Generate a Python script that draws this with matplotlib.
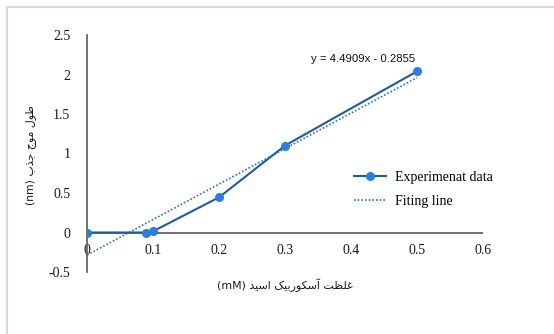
import matplotlib
matplotlib.use('Agg')
import matplotlib.pyplot as plt
from matplotlib.patches import Rectangle

# data
conc_mM = [0.0, 0.09, 0.10, 0.20, 0.30, 0.50]
shift_nm = [0.0, 0.0, 0.015, 0.445, 1.10, 2.04]

# trendline as printed on the chart
slope = 4.4909
intercept = -0.2855
fit_x = [0.0, 0.5]
fit_y = [slope * v + intercept for v in fit_x]

x_ticks = [0, 0.1, 0.2, 0.3, 0.4, 0.5, 0.6]
x_tick_labels = ['0', '0.1', '0.2', '0.3', '0.4', '0.5', '0.6']
y_ticks = [-0.5, 0, 0.5, 1, 1.5, 2, 2.5]
y_tick_labels = ['-0.5', '0', '0.5', '1', '1.5', '2', '2.5']

# Persian labels, written in presentation forms in visual order (no shaping engine)
y_label = '(nm) \uFE8F\uFEAC\uFE9F \uFE9D\uFEEE\uFEE3 \uFEDD\uFEEE\uFEC3'
x_label = ('(mM) \uFEAA\uFBFF\uFEB3\uFE8D '
           '\uFB8F\uFBFF\uFE91\uFEAD\uFEEE\uFB91\uFEB3\uFE81 '
           '\uFE96\uFEC8\uFEE0\uFECF')
eq_text = 'y = 4.4909x - 0.2855'

line_color = '#1f5c9c'
marker_color = '#2e7dd6'
fit_color = '#2f6fae'
axis_color = '#595959'

W, H = 554, 334
fig = plt.figure(figsize=(W / 100, H / 100), dpi=100)

# light grey chart-area border (runs off the right and bottom edges)
fig.patches.append(Rectangle((7 / W, -0.05), 1.2, (H - 7) / H + 0.05,
                             transform=fig.transFigure, fill=False,
                             edgecolor='#d9d9d9', linewidth=1.5))

ax = fig.add_axes([87 / W, (H - 272) / H, 396 / W, 237 / H])
ax.set_xlim(0, 0.6)
ax.set_ylim(-0.5, 2.5)

ax.plot(conc_mM, shift_nm, color=line_color, linewidth=1.5, marker='o',
        markersize=5.5, markerfacecolor=marker_color, markeredgecolor=marker_color,
        label='Experimenat data', zorder=3)
ax.plot(fit_x, fit_y, color=fit_color, linewidth=1.2, linestyle=(0, (1, 1.2)),
        label='Fiting line', zorder=2)

for side in ['top', 'right', 'bottom']:
    ax.spines[side].set_visible(False)
ax.spines['left'].set_color(axis_color)
ax.spines['left'].set_linewidth(1.2)
ax.axhline(0, color=axis_color, linewidth=1.2, zorder=1)

tick_font = {'family': 'Liberation Serif', 'size': 10, 'color': '#1a1a1a'}
ax.set_xticks(x_ticks)
ax.set_xticklabels(x_tick_labels, fontdict=tick_font)
ax.set_yticks(y_ticks)
ax.set_yticklabels(y_tick_labels, fontdict=tick_font)
ax.tick_params(axis='both', length=0)
ax.tick_params(axis='x', pad=-20)
ax.tick_params(axis='y', pad=12)

fig.text(285 / W, 1 - 285 / H, x_label, ha='center', va='center',
         family='DejaVu Sans', fontsize=7.9, color='#1a1a1a')
fig.text(31 / W, 1 - 155 / H, y_label, ha='center', va='center', rotation=90,
         family='DejaVu Sans', fontsize=7.8, color='#1a1a1a')

ax.text(0.497, 2.2, eq_text, ha='right', va='center',
        family='Liberation Sans', fontsize=8.2, color='#111111')

ax.legend(loc='upper left', frameon=False,
          prop={'family': 'Liberation Serif', 'size': 10},
          handlelength=2.3, handletextpad=0.7, labelspacing=0.8, borderaxespad=0)
leg = ax.get_legend()
leg.set_bbox_to_anchor((348 / W, 1 - 165 / H), transform=fig.transFigure)

fig.savefig('out.png', dpi=100)
